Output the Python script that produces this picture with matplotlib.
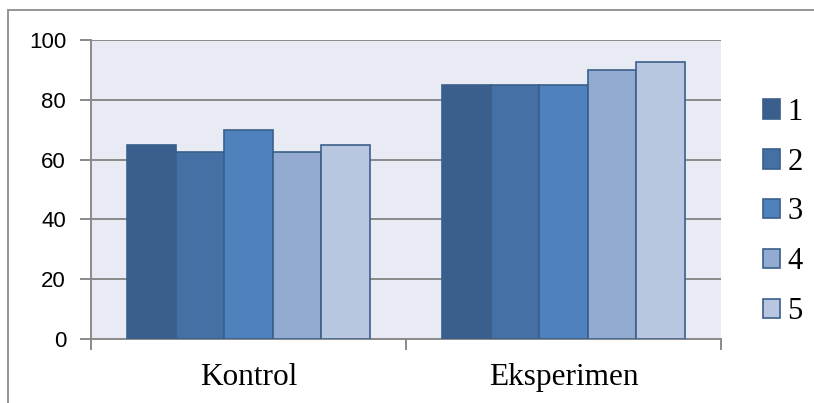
import numpy as np
import matplotlib.pyplot as plt
from matplotlib.patches import Rectangle

categories = ["Kontrol", "Eksperimen"]
series_names = ["1", "2", "3", "4", "5"]
values = [
    [65, 85],
    [62.5, 85],
    [70, 85],
    [62.5, 90],
    [65, 92.5],
]
colors = ["#3A5F8C", "#4470A6", "#4F81BD", "#93ABD0", "#B9C6DF"]
yticks = [0, 20, 40, 60, 80, 100]

fig = plt.figure(figsize=(8.14, 4.03), dpi=100)
ax = fig.add_axes([0.1118, 0.1588, 0.7739, 0.7419])
ax.set_facecolor("#E8EAF4")

# outer chart border (no right edge visible in the original)
fig.patches.append(Rectangle((8 / 814, -0.05), 1.0, 1 - 10 / 403 + 0.05,
                             transform=fig.transFigure, fill=False,
                             edgecolor="#8C8C8C", linewidth=1.3))

x = np.arange(len(categories))
w = 0.154
handles = []
for i, (name, vals) in enumerate(zip(series_names, values)):
    b = ax.bar(x + (i - 2) * w, vals, w, color=colors[i], edgecolor="#3A5F8B",
               linewidth=1.2, label=name, zorder=3)
    handles.append(b)

ax.set_xlim(-0.5, 1.5)
ax.set_ylim(0, 100)
ax.set_yticks(yticks)
ax.yaxis.grid(True, color="#8A8A8A", linewidth=1.4, zorder=0)
ax.set_axisbelow(True)
for s in ["top", "right"]:
    ax.spines[s].set_visible(False)
for s in ["left", "bottom"]:
    ax.spines[s].set_color("#8A8A8A")
    ax.spines[s].set_linewidth(1.4)
ax.tick_params(axis="y", length=8, width=1.4, color="#8A8A8A", pad=10,
               labelsize=16)
for t in ax.get_yticklabels():
    t.set_fontfamily("Liberation Sans")

ax.set_xticks(x)
ax.set_xticklabels(categories, fontfamily="Liberation Serif", fontsize=22.5)
ax.tick_params(axis="x", which="major", length=0, pad=17)
ax.set_xticks([-0.5, 0.5, 1.5], minor=True)
ax.tick_params(axis="x", which="minor", length=8, width=1.4, color="#8A8A8A")

fig.legend(handles=handles, labels=series_names, loc="center left",
           bbox_to_anchor=(0.937, 0.474), frameon=False,
           prop={"family": "Liberation Serif", "size": 22},
           handlelength=0.55, handleheight=0.6, handletextpad=0.25,
           labelspacing=0.68, borderaxespad=0, borderpad=0)

fig.savefig("out.png", dpi=100)
